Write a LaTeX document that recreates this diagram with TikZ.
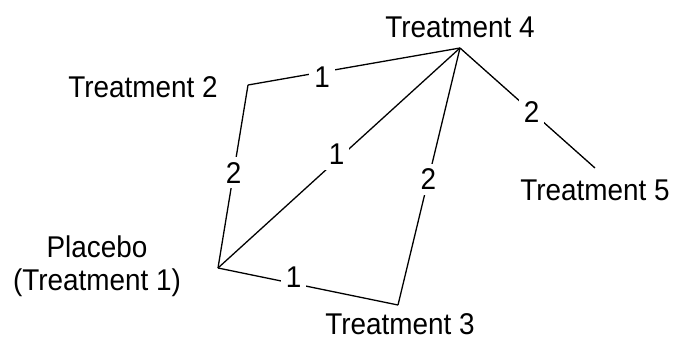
\documentclass[tikz,border=0pt]{standalone}
\usepackage{fontspec}
\setmainfont[FakeStretch=0.93]{Liberation Sans}
\begin{document}
\begin{tikzpicture}[x=1pt,y=-1pt,
  every node/.style={font=\fontsize{30}{33}\selectfont, inner sep=1pt},
  tlabel/.style={anchor=base},
  wlabel/.style={fill=white, inner sep=5pt},
  link/.style={line width=1.3pt, line join=round}]
\useasboundingbox (0,0) rectangle (675,340);
\coordinate (v1) at (218,268);
\coordinate (v2) at (248,85);
\coordinate (v3) at (398,305);
\coordinate (v4) at (460,48);
\coordinate (v5) at (595,168);
\draw[link] (v2) -- node[wlabel, pos=0.35, yshift=-5pt] (e24) {1} (v4);
\draw[link] (v1) -- node[wlabel, pos=0.52] (e12) {2} (v2);
\draw[link] (v1) -- node[wlabel, pos=0.49, yshift=6pt] (e14) {1} (v4);
\draw[link] (v3) -- node[wlabel, pos=0.49] (e34) {2} (v4);
\draw[link] (v4) -- node[wlabel, pos=0.53] (e45) {2} (v5);
\draw[link] (v1) -- node[wlabel, pos=0.42, yshift=6pt] (e13) {1} (v3);
\node[tlabel] (t4) at (460,37) {Treatment 4};
\node[tlabel] (t2) at (143,97) {Treatment 2};
\node[tlabel] (t5) at (595,200) {Treatment 5};
\node[tlabel] (t3) at (400,334) {Treatment 3};
\node[align=center] (t1) at (97,266) {Placebo\\(Treatment 1)};
\end{tikzpicture}
\end{document}
